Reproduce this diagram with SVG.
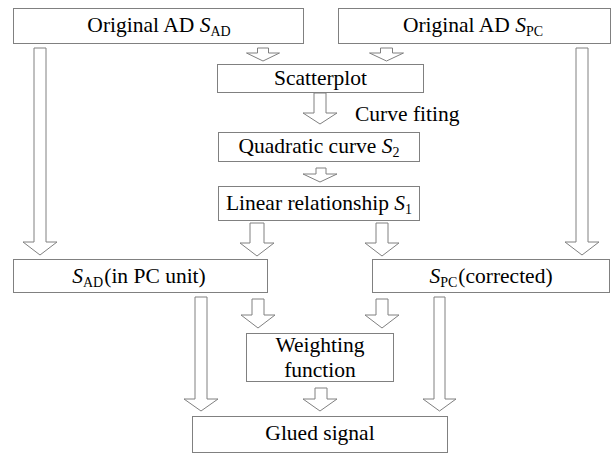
<svg xmlns="http://www.w3.org/2000/svg" width="616" height="454" viewBox="0 0 616 454" font-family="Liberation Serif, serif">
  <style>
    .box { fill: #ffffff; stroke: #808080; stroke-width: 1; }
    .arrow { fill: #ffffff; stroke: #808080; stroke-width: 1; stroke-linejoin: miter; }
    text { font-family: 'Liberation Serif', serif; font-size: 21.5px; fill: #000000; }
    .c { text-anchor: middle; }
    .it { font-style: italic; }
    .sub { font-size: 14px; }
  </style>
  <rect width="616" height="454" fill="#ffffff"/>

  <!-- block arrows -->
  <g id="connectors">
    <path class="arrow" d="M257.5,48 H268.5 V53 H279.5 L263,61 L246.5,53 H257.5 Z"/>
    <path class="arrow" d="M380.5,48 H392.5 V53 H403.5 L386.5,61 L369.5,53 H380.5 Z"/>
    <path class="arrow" d="M34,48 H46 V242 H57 L40,255 L23,242 H34 Z"/>
    <path class="arrow" d="M576,48 H588 V242 H599 L582,255 L565,242 H576 Z"/>
    <path class="arrow" d="M314,93 H326 V113 H337 L320,124 L303,113 H314 Z"/>
    <path class="arrow" d="M316,168 H326 V174 H337 L320,182 L303,174 H316 Z"/>
    <path class="arrow" d="M250,223 H264 V243 H274 L257,256 L240,243 H250 Z"/>
    <path class="arrow" d="M376,223 H388 V243 H399 L382,256 L365,243 H376 Z"/>
    <path class="arrow" d="M195,297 H207 V399 H218 L201,411 L184,399 H195 Z"/>
    <path class="arrow" d="M252,299 H264 V315 H275 L258,328 L241,315 H252 Z"/>
    <path class="arrow" d="M376,299 H388 V315 H399 L382,328 L365,315 H376 Z"/>
    <path class="arrow" d="M434,297 H445 V399 H456 L439.5,411 L423,399 H434 Z"/>
    <path class="arrow" d="M315,388 H327 V399 H337 L320,411 L303,399 H315 Z"/>
  </g>

  <g id="orig-ad">
    <rect class="box" x="13.5" y="8.5" width="290" height="35"/>
    <text class="c" x="159" y="32">Original AD <tspan class="it">S</tspan><tspan class="sub" dy="4">AD</tspan></text>
  </g>

  <g id="orig-pc">
    <rect class="box" x="338.5" y="8.5" width="272" height="35"/>
    <text class="c" x="473" y="32">Original AD <tspan class="it">S</tspan><tspan class="sub" dy="4">PC</tspan></text>
  </g>

  <g id="scatterplot">
    <rect class="box" x="217.5" y="64.5" width="206" height="28"/>
    <text class="c" x="320.5" y="85">Scatterplot</text>
  </g>

  <text id="curve-fitting-label" x="355" y="121">Curve fiting</text>

  <g id="quadratic">
    <rect class="box" x="218.5" y="132.5" width="201" height="29"/>
    <text class="c" x="319" y="153">Quadratic curve <tspan class="it">S</tspan><tspan class="sub" dy="4">2</tspan></text>
  </g>

  <g id="linear">
    <rect class="box" x="218.5" y="186.5" width="201" height="34"/>
    <text class="c" x="319" y="210">Linear relationship <tspan class="it">S</tspan><tspan class="sub" dy="4">1</tspan></text>
  </g>

  <g id="sad-pc-unit">
    <rect class="box" x="13.5" y="259.5" width="254" height="33"/>
    <text class="c" x="139" y="283"><tspan class="it">S</tspan><tspan class="sub" dy="4">AD</tspan><tspan dy="-4" dx="1">(in PC unit)</tspan></text>
  </g>

  <g id="spc-corrected">
    <rect class="box" x="372.5" y="259.5" width="237" height="33"/>
    <text class="c" x="491" y="283"><tspan class="it">S</tspan><tspan class="sub" dy="4">PC</tspan><tspan dy="-4" dx="1">(corrected)</tspan></text>
  </g>

  <g id="weighting">
    <rect class="box" x="246.5" y="333.5" width="147" height="48"/>
    <text class="c" x="320" y="352">Weighting</text>
    <text class="c" x="320" y="377">function</text>
  </g>

  <g id="glued">
    <rect class="box" x="192.5" y="416.5" width="255" height="36"/>
    <text class="c" x="320" y="440">Glued signal</text>
  </g>
</svg>
